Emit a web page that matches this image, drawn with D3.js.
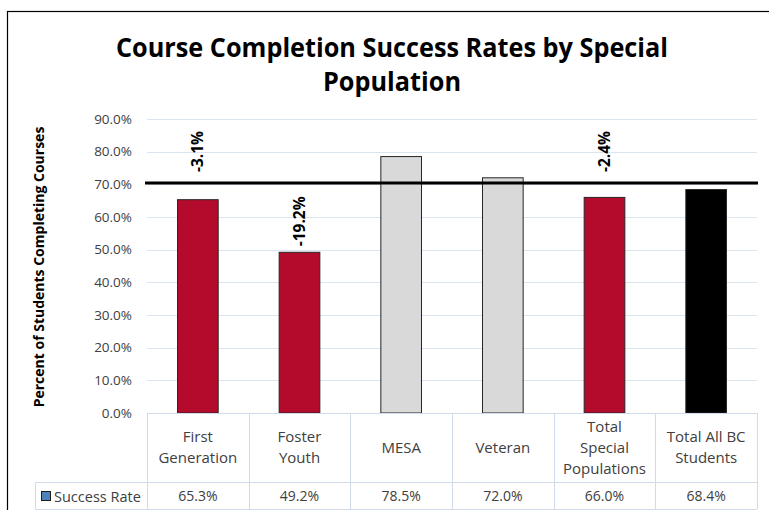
<!DOCTYPE html>
<html>
<head>
<meta charset="utf-8">
<script src="https://cdn.jsdelivr.net/npm/d3@7"></script>
<style>
  body { margin: 0; background: #fff; }
  svg { display: block; font-family: "Open Sans", sans-serif; }
</style>
</head>
<body>
<div id="chart"></div>
<script>
// ── Datos ─────────────────────────────────────────────────────────────
const categories = [
  ["First", "Generation"],
  ["Foster", "Youth"],
  ["MESA"],
  ["Veteran"],
  ["Total", "Special", "Populations"],
  ["Total All BC", "Students"]
];
const successRate = [65.3, 49.2, 78.5, 72.0, 66.0, 68.4];
const gapLabels = ["-3.1%", "-19.2%", "", "", "-2.4%", ""];
const barGroup = ["below", "below", "above", "above", "below", "total"];
const targetLine = 70.4;
const yTicks = [0, 10, 20, 30, 40, 50, 60, 70, 80, 90];

const width = 769, height = 510;
const margin = { left: 147, right: 12, top: 119, bottom: 97 };
const plotRight = width - margin.right;
const plotBottom = height - margin.bottom;

const svg = d3.select("#chart").append("svg")
  .attr("width", width)
  .attr("height", height);

// marco exterior
svg.append("rect")
  .attr("x", 7.5).attr("y", 11.5)
  .attr("width", width + 10).attr("height", height)
  .attr("fill", "none").attr("stroke", "#000").attr("stroke-width", 1.2);

// ── Escalas ───────────────────────────────────────────────────────────
const x = d3.scaleBand()
  .domain(d3.range(categories.length))
  .range([margin.left, plotRight])
  .paddingInner(0).paddingOuter(0);

const y = d3.scaleLinear()
  .domain([0, 90])
  .range([plotBottom, margin.top]);

const color = { below: "#b40a2c", above: "#d9d9d9", total: "#000000" };

// ── Título ────────────────────────────────────────────────────────────
const title = svg.append("text")
  .attr("text-anchor", "middle")
  .style("font-weight", "bold")
  .style("font-size", "27px")
  .attr("fill", "#000");
title.append("tspan").attr("x", 392).attr("y", 57)
  .attr("textLength", 552).attr("lengthAdjust", "spacingAndGlyphs")
  .text("Course Completion Success Rates by Special");
title.append("tspan").attr("x", 392).attr("y", 91)
  .attr("textLength", 138).attr("lengthAdjust", "spacingAndGlyphs")
  .text("Population");

// ── Rejilla y eje Y ───────────────────────────────────────────────────
svg.append("g")
  .selectAll("line")
  .data(yTicks.slice(1))
  .join("line")
  .attr("x1", margin.left).attr("x2", plotRight)
  .attr("y1", d => Math.round(y(d)) + 0.5).attr("y2", d => Math.round(y(d)) + 0.5)
  .attr("stroke", "#dbe5f1").attr("stroke-width", 1);

svg.append("g")
  .selectAll("text")
  .data(yTicks)
  .join("text")
  .attr("x", 132)
  .attr("y", d => y(d))
  .attr("dy", "0.35em")
  .attr("text-anchor", "end")
  .style("font-size", "13.5px")
  .attr("fill", "#404040")
  .text(d => d3.format(".1f")(d) + "%");

svg.append("text")
  .attr("transform", `translate(44,${(y(0) + y(90)) / 2 + 1}) rotate(-90)`)
  .attr("text-anchor", "middle")
  .style("font-weight", "bold")
  .style("font-size", "14px")
  .attr("fill", "#000")
  .text("Percent of Students Completing Courses");

// ── Barras ────────────────────────────────────────────────────────────
const barW = x.bandwidth() * 0.4;
svg.append("g")
  .selectAll("rect")
  .data(successRate)
  .join("rect")
  .attr("x", (d, i) => x(i) + (x.bandwidth() - barW) / 2)
  .attr("y", d => y(d))
  .attr("width", barW)
  .attr("height", d => y(0) - y(d))
  .attr("fill", (d, i) => color[barGroup[i]])
  .attr("stroke", "#262626")
  .attr("stroke-width", 1);

// línea de referencia
svg.append("line")
  .attr("x1", margin.left - 2).attr("x2", plotRight + 1)
  .attr("y1", y(targetLine)).attr("y2", y(targetLine))
  .attr("stroke", "#000").attr("stroke-width", 3);

// etiquetas de diferencia
svg.append("g")
  .selectAll("text")
  .data(successRate)
  .join("text")
  .attr("transform", (d, i) => {
    const top = d > targetLine - 10 ? y(targetLine) - 11 : y(d) - 6;
    return `translate(${x(i) + x.bandwidth() / 2 + 5},${top}) rotate(-90)`;
  })
  .attr("text-anchor", "start")
  .style("font-weight", "bold")
  .style("font-size", "15.5px")
  .attr("fill", "#000")
  .text((d, i) => gapLabels[i]);

// ── Tabla de datos ────────────────────────────────────────────────────
const rowMid = 482, rowBottom = 509, legendLeft = 35;
const tableStroke = "#d0dcea";
const table = svg.append("g").attr("stroke", tableStroke).attr("stroke-width", 1);

table.append("line").attr("x1", margin.left).attr("x2", plotRight)
  .attr("y1", plotBottom + 0.5).attr("y2", plotBottom + 0.5);
table.append("line").attr("x1", legendLeft).attr("x2", plotRight)
  .attr("y1", rowMid + 0.5).attr("y2", rowMid + 0.5);
table.append("line").attr("x1", legendLeft).attr("x2", plotRight)
  .attr("y1", rowBottom + 0.5).attr("y2", rowBottom + 0.5);
table.append("line").attr("x1", legendLeft + 0.5).attr("x2", legendLeft + 0.5)
  .attr("y1", rowMid).attr("y2", rowBottom);
table.selectAll("line.col")
  .data(d3.range(categories.length + 1))
  .join("line")
  .attr("class", "col")
  .attr("x1", i => Math.round(margin.left + i * x.bandwidth()) + 0.5)
  .attr("x2", i => Math.round(margin.left + i * x.bandwidth()) + 0.5)
  .attr("y1", plotBottom).attr("y2", rowBottom);

// nombres de categoría
svg.append("g")
  .selectAll("text")
  .data(categories)
  .join("text")
  .attr("text-anchor", "middle")
  .style("font-size", "15px")
  .attr("fill", "#404040")
  .each(function(lines, i) {
    const cy = (plotBottom + rowMid) / 2;
    const lh = 21;
    lines.forEach((t, k) => {
      d3.select(this).append("tspan")
        .attr("x", x(i) + x.bandwidth() / 2)
        .attr("y", cy + (k - (lines.length - 1) / 2) * lh)
        .attr("dy", "0.35em")
        .text(t);
    });
  });

// valores
svg.append("g")
  .selectAll("text")
  .data(successRate)
  .join("text")
  .attr("x", (d, i) => x(i) + x.bandwidth() / 2)
  .attr("y", (rowMid + rowBottom) / 2 + 1)
  .attr("dy", "0.35em")
  .attr("text-anchor", "middle")
  .style("font-size", "14px")
  .attr("fill", "#404040")
  .text(d => d.toFixed(1) + "%");

// leyenda
svg.append("rect")
  .attr("x", 41.5).attr("y", 491.5).attr("width", 9).attr("height", 9)
  .attr("fill", "#4f81bd").attr("stroke", "#1f1f1f").attr("stroke-width", 1);
svg.append("text")
  .attr("x", 54).attr("y", (rowMid + rowBottom) / 2 + 1)
  .attr("dy", "0.35em")
  .style("font-size", "14.5px")
  .attr("fill", "#404040")
  .text("Success Rate");
</script>
</body>
</html>
